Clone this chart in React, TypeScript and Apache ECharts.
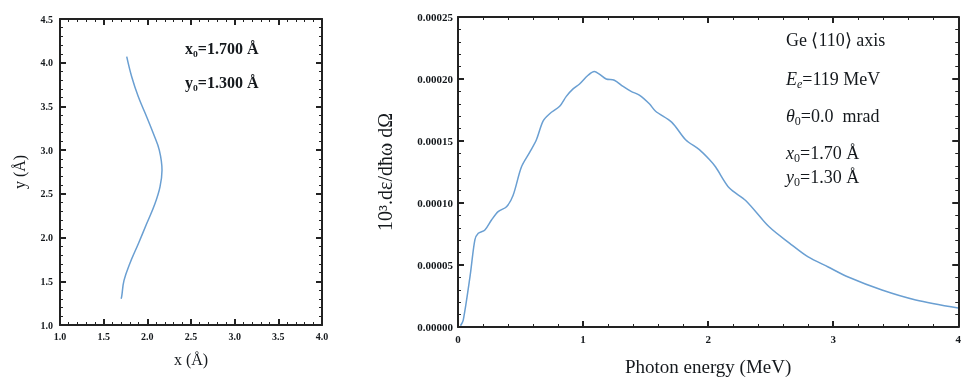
import React, { useEffect, useRef } from "react";
import * as echarts from "echarts";

// Left panel: trajectory (x, y) in Å
const trajX = [1.70, 1.707, 1.733, 1.802, 1.897, 1.993, 2.088, 2.145, 2.168, 2.137, 2.069, 1.993, 1.897, 1.821, 1.764];
const trajY = [1.30, 1.33, 1.51, 1.71, 1.93, 2.16, 2.39, 2.58, 2.77, 3.0, 3.19, 3.38, 3.61, 3.84, 4.07];

// Right panel: spectrum
const photonE = [
  0.02, 0.042, 0.096, 0.135, 0.162, 0.215, 0.268, 0.321, 0.388, 0.44, 0.507, 0.574, 0.627, 0.68, 0.733,
  0.813, 0.866, 0.92, 0.972, 1.04, 1.09, 1.13, 1.185, 1.25, 1.32, 1.384, 1.45, 1.53, 1.58, 1.71, 1.82,
  1.93, 2.01, 2.06, 2.17, 2.3, 2.49, 2.65, 2.8, 2.96, 3.12, 3.39, 3.66, 4.0,
];
const intensity = [
  0.000001, 0.0000056, 0.0000406, 0.0000702, 0.0000756, 0.0000782, 0.0000863, 0.000093, 0.000097,
  0.000106, 0.000129, 0.000141, 0.000151, 0.000166, 0.000172, 0.000178, 0.000186, 0.000192, 0.000196,
  0.000203, 0.000206, 0.000204, 0.0002, 0.000199, 0.000194, 0.00019, 0.000187, 0.00018, 0.000174,
  0.000165, 0.000151, 0.000143, 0.000135, 0.000129, 0.000112, 0.000102, 0.0000806, 0.0000677,
  0.0000565, 0.0000484, 0.0000403, 0.0000298, 0.0000218, 0.0000153,
];

const leftTickLabels = ["1.0", "1.5", "2.0", "2.5", "3.0", "3.5", "4.0", "4.5"];
const rightXTickLabels = ["0", "1", "2", "3", "4"];

const SERIF = "Liberation Serif";
const INK = "#15191d";
const LINE = "#6a9fd2";
const FRAME = "#222222";

function mk(gi: number, min: number, max: number, interval: number, position: string, label: any, nameOpt: any) {
  const ax: any = {
    type: "value", gridIndex: gi, min, max, interval, position, z: 5,
    axisLine: { show: true, onZero: false, lineStyle: { color: FRAME, width: 2 } },
    axisTick: { show: true, inside: true, length: 6, lineStyle: { color: FRAME, width: 2 } },
    minorTick: { show: true, splitNumber: 5, length: 3, lineStyle: { color: FRAME, width: 1 } },
    splitLine: { show: false },
    axisLabel: label,
  };
  if (nameOpt) {
    ax.name = nameOpt.name;
    ax.nameLocation = "middle";
    ax.nameGap = nameOpt.gap;
    ax.nameTextStyle = { fontFamily: SERIF, fontSize: nameOpt.size, color: INK };
  }
  return ax;
}

export default function App() {
  const ref = useRef<HTMLDivElement>(null);
  useEffect(() => {
    if (!ref.current) return;
    const chart = echarts.init(ref.current, undefined, { renderer: "svg" });
    const leftFmt = (v: number) => leftTickLabels[Math.round((v - 1) / 0.5)];
    const lxLabel = { fontFamily: SERIF, fontWeight: "bold", fontSize: 10, color: INK, margin: 6, formatter: leftFmt };
    const lyLabel = { fontFamily: SERIF, fontWeight: "bold", fontSize: 10, color: INK, margin: 7, formatter: leftFmt };
    const rxLabel = { fontFamily: SERIF, fontWeight: "bold", fontSize: 11, color: INK, margin: 6, formatter: (v: number) => rightXTickLabels[Math.round(v)] };
    const ryLabel = { fontFamily: SERIF, fontWeight: "bold", fontSize: 11, color: INK, margin: 5, formatter: (v: number) => v.toFixed(5) };
    const hidden = { show: false };

    const txt = (text: string, x: number, y: number, size: number, bold = false) => ({
      type: "text", x, y, z: 10,
      style: { text, fontFamily: SERIF, fontSize: size, fontWeight: bold ? "bold" : "normal", fill: INK, verticalAlign: "middle" },
    });
    const subText = (main: string, sub: string, rest: string, x: number, y: number, italicSub = false) => ({
      type: "text", x, y, z: 10,
      style: {
        text: `{i|${main}}{s|${sub}}${rest}`, fontFamily: SERIF, fontSize: 18, fill: INK, verticalAlign: "middle",
        rich: {
          i: { fontFamily: SERIF, fontSize: 18, fontStyle: "italic", fill: INK },
          s: { fontFamily: SERIF, fontSize: 12, fontStyle: italicSub ? "italic" : "normal", fill: INK, padding: [9, 0, 0, 0] },
        },
      },
    });

    chart.setOption({
      animation: false,
      grid: [
        { left: 60, top: 19, width: 262, height: 306 },
        { left: 458, top: 17, width: 502, height: 310 },
      ],
      xAxis: [
        mk(0, 1, 4, 0.5, "bottom", lxLabel, { name: "x (Å)", gap: 26, size: 16 }),
        mk(0, 1, 4, 0.5, "top", hidden, null),
        mk(1, 0, 4, 1, "bottom", rxLabel, { name: "Photon energy (MeV)", gap: 30, size: 19 }),
        mk(1, 0, 4, 1, "top", hidden, null),
      ],
      yAxis: [
        mk(0, 1, 4.5, 0.5, "left", lyLabel, { name: "y (Å)", gap: 33, size: 16 }),
        mk(0, 1, 4.5, 0.5, "right", hidden, null),
        mk(1, 0, 0.00025, 0.00005, "left", ryLabel, { name: "10³.dε/dħω dΩ", gap: 63, size: 20 }),
        mk(1, 0, 0.00025, 0.00005, "right", hidden, null),
      ],
      series: [
        {
          type: "line", xAxisIndex: 0, yAxisIndex: 0, showSymbol: false, smooth: 0.4,
          data: trajX.map((x, i) => [x, trajY[i]]),
          lineStyle: { color: LINE, width: 1.5 },
        },
        {
          type: "line", xAxisIndex: 2, yAxisIndex: 2, showSymbol: false, smooth: 0.3,
          data: photonE.map((x, i) => [x, intensity[i]]),
          lineStyle: { color: LINE, width: 1.5 },
        },
      ],
      graphic: [
        txt("x₀=1.700 Å", 185, 48, 16, true),
        txt("y₀=1.300 Å", 185, 82, 16, true),
        txt("Ge ⟨110⟩ axis", 786, 40, 18),
        subText("E", "e", "=119 MeV", 786, 79, true),
        subText("θ", "0", "=0.0  mrad", 786, 116),
        subText("x", "0", "=1.70 Å", 786, 153),
        subText("y", "0", "=1.30 Å", 786, 177),
      ],
    });
    return () => chart.dispose();
  }, []);
  return <div ref={ref} style={{ position: "fixed", left: 0, top: 0, width: 964, height: 385 }} />;
}
